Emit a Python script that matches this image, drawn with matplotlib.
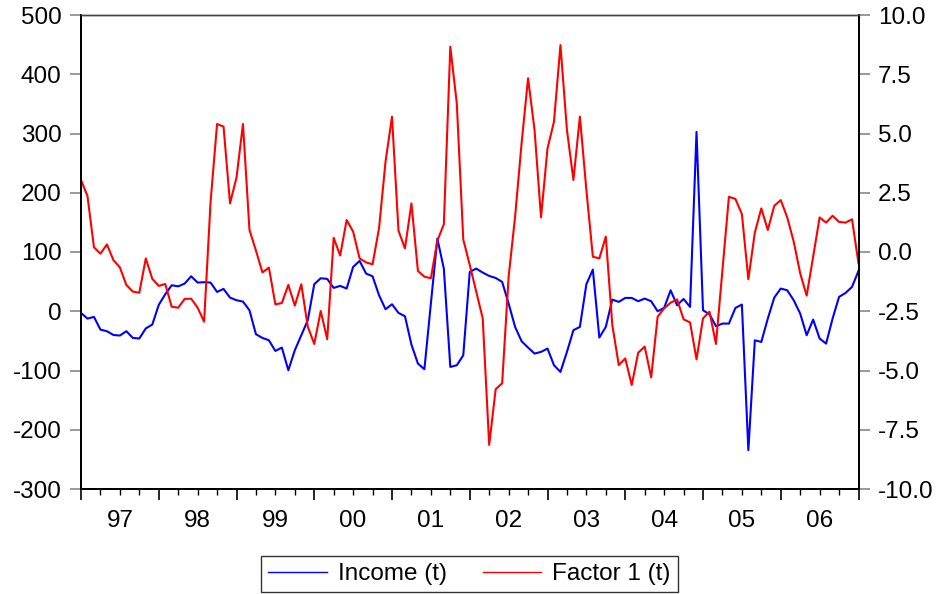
import numpy as np
import matplotlib.pyplot as plt
from matplotlib.ticker import FormatStrFormatter

# monthly observations, Jan 1997 .. Jan 2007
income = [-2.8, -12.4, -9.5, -31, -33.7, -40, -41, -33.7, -45, -46,
          -29, -22.5, 10.7, 28.7, 43.9, 42, 46.7, 59, 48.4, 49,
          48.4, 32.6, 37.7, 23, 18.6, 16.3, 1.7, -38.8, -45, -49,
          -67, -61.3, -99.6, -65.8, -40.5, -15.2, 45.6, 55.7, 54.6, 39.4,
          42.8, 38.3, 74.8, 85, 63.6, 59, 27, 3.4, 11.8, -2.8,
          -8.4, -56.3, -88.3, -97.9, 13, 122.6, 72, -94, -91.1, -74.3,
          66.4, 72, 65.2, 59.6, 56.2, 49.5, 13, -26.4, -50.6, -61.3,
          -71.4, -68.6, -63, -91.1, -102.4, -68.6, -32, -26.4, 45.6, 70.3,
          -44.4, -26.4, 19.7, 15.8, 22.5, 22.5, 16.9, 21.4, 16.9, 0,
          5.6, 35.4, 10.1, 20.8, 7.3, 302.7, 1.7, -5.1, -25.3, -20.8,
          -20.8, 5.6, 11.3, -234.6, -49, -51.8, -12.4, 23.1, 38.3, 35.4,
          18.6, -3.9, -40.5, -14.1, -46.1, -54.6, -12.4, 24.2, 30.9, 41.1,
          68.1]

factor = [3.04, 2.36, 0.2, -0.07, 0.32, -0.34, -0.65, -1.39, -1.67, -1.72,
          -0.27, -1.13, -1.43, -1.35, -2.31, -2.35, -1.98, -1.97, -2.35, -2.94,
          2.12, 5.4, 5.29, 2.05, 3.14, 5.4, 0.93, 0.06, -0.86, -0.66,
          -2.21, -2.15, -1.39, -2.26, -1.36, -3.15, -3.88, -2.49, -3.68, 0.6,
          -0.15, 1.35, 0.86, -0.27, -0.44, -0.52, 1.0, 3.81, 5.71, 0.9,
          0.15, 2.05, -0.8, -1.04, -1.11, 0.48, 1.17, 8.66, 6.27, 0.53,
          -0.55, -1.67, -2.8, -8.14, -5.79, -5.54, -1.04, 1.49, 4.59, 7.33,
          5.15, 1.46, 4.37, 5.5, 8.73, 5.15, 3.04, 5.71, 2.62, -0.2,
          -0.27, 0.65, -3.08, -4.77, -4.49, -5.61, -4.25, -3.99, -5.29, -2.73,
          -2.38, -2.14, -2.0, -2.84, -2.97, -4.53, -2.8, -2.52, -3.88, -0.76,
          2.33, 2.24, 1.6, -1.15, 0.82, 1.84, 0.93, 1.95, 2.19, 1.46,
          0.44, -0.9, -1.84, -0.2, 1.46, 1.24, 1.53, 1.27, 1.24, 1.38,
          -0.48]

years = ['97', '98', '99', '00', '01', '02', '03', '04', '05', '06']

plt.rcParams['font.family'] = ['Liberation Sans', 'DejaVu Sans']
plt.rcParams['axes.unicode_minus'] = False
FS = 17.5

months = np.arange(len(income))

fig = plt.figure(figsize=(9.43, 5.94), dpi=100)
ax = fig.add_axes([81 / 943, 1 - 489 / 594, 777.5 / 943, 474 / 594])
ax2 = ax.twinx()

l1, = ax.plot(months, income, color='#0000ff', lw=1.5, label='Income (t)')
l2, = ax2.plot(months, factor, color='#ff0000', lw=1.5, label='Factor 1 (t)')

ax.set_xlim(0, 120)
ax.set_ylim(-300, 500)
ax2.set_ylim(-10, 10)
ax.set_yticks(range(-300, 501, 100))
ax2.set_yticks(np.arange(-10, 10.01, 2.5))
ax2.yaxis.set_major_formatter(FormatStrFormatter('%.1f'))

ax.set_xticks(range(0, 121, 12))
ax.set_xticks(range(0, 121, 3), minor=True)
ax.set_xticklabels([])
ax.tick_params(axis='x', which='major', length=8, width=1.2, direction='out', color='black')
ax.tick_params(axis='x', which='minor', length=4.5, width=1.0, direction='out', color='black')
ax.tick_params(axis='y', length=8, width=1.2, color='#888888', pad=6, labelsize=FS)
ax2.tick_params(axis='y', length=8, width=1.2, color='#888888', pad=6, labelsize=FS)

for a in (ax, ax2):
    for s in a.spines.values():
        s.set_color('black')
        s.set_linewidth(1.3)
    a.spines['top'].set_color('#444444')
    a.spines['top'].set_linewidth(1.0)

for k, yr in enumerate(years):
    ax.text(12 * k + 6, -0.068, yr, transform=ax.get_xaxis_transform(),
            ha='center', va='center', fontsize=FS)

leg = fig.legend([l1, l2], ['Income (t)', 'Factor 1 (t)'], loc='center',
                 bbox_to_anchor=(469.5 / 943, 1 - 574 / 594), ncol=2,
                 fontsize=FS, frameon=True, fancybox=False, edgecolor='black',
                 handlelength=2.4, handletextpad=0.45, columnspacing=1.5,
                 borderpad=0.3)
leg.get_frame().set_linewidth(1.0)
for h in leg.get_lines():
    h.set_linewidth(1.0)

fig.savefig('out.png', dpi=100)
